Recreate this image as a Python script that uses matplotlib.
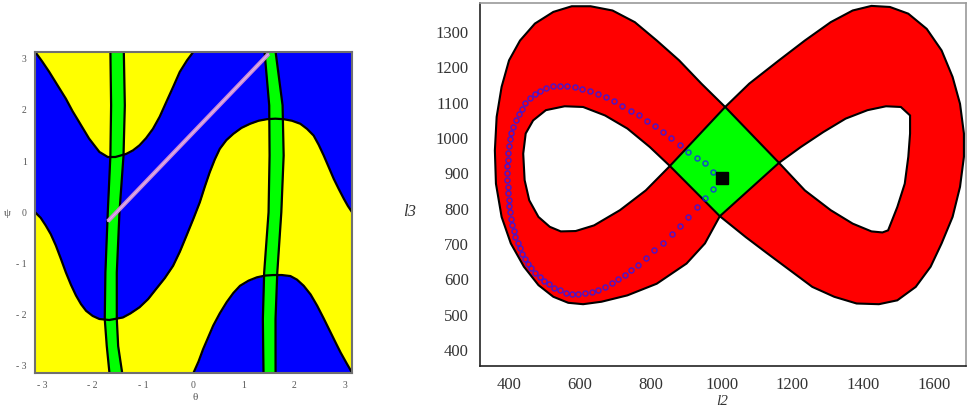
import numpy as np
import matplotlib.pyplot as plt
from matplotlib.patches import Polygon

PI = np.pi

# ---- left panel: theta / psi plane ----
c1_theta = [-PI, -3.00, -2.86, -2.70, -2.53, -2.40, -2.265, -2.07, -1.867, -1.70, -1.55, -1.335,
            -1.20, -1.07, -0.94, -0.805, -0.67, -0.538, -0.40, -0.273, -0.13, 0.0]
c1_psi = [PI, 2.95, 2.745, 2.49, 2.22, 1.98, 1.76, 1.44, 1.18, 1.08, 1.08, 1.14,
          1.21, 1.31, 1.45, 1.63, 1.87, 2.16, 2.46, 2.745, 2.97, PI]

c2_theta = [-PI, -3.03, -2.93, -2.83, -2.73, -2.63, -2.53, -2.43, -2.33, -2.23, -2.13, -2.00,
            -1.867, -1.67, -1.40, -1.25, -1.07, -0.90, -0.74, -0.57, -0.406, -0.27, -0.14,
            0.0, 0.125, 0.22, 0.32, 0.42, 0.52, 0.65, 0.79, 0.95, 1.12, 1.29, 1.454, 1.62,
            1.785, 1.95, 2.117, 2.25, 2.38, 2.48, 2.58, 2.68, 2.78, 2.88, 2.98, 3.06, PI]
c2_psi = [0.0, -0.11, -0.26, -0.43, -0.65, -0.91, -1.18, -1.42, -1.63, -1.80, -1.93, -2.03,
          -2.09, -2.11, -2.06, -1.98, -1.86, -1.70, -1.50, -1.29, -1.05, -0.77, -0.46,
          -0.12, 0.196, 0.49, 0.78, 1.03, 1.24, 1.41, 1.535, 1.65, 1.73, 1.79, 1.82, 1.83,
          1.82, 1.79, 1.73, 1.63, 1.50, 1.32, 1.11, 0.88, 0.65, 0.45, 0.26, 0.12, 0.0]

c3_theta = [0.0, 0.10, 0.19, 0.29, 0.39, 0.52, 0.657, 0.79, 0.922, 1.09, 1.255, 1.42, 1.585,
            1.75, 1.92, 2.05, 2.183, 2.32, 2.45, 2.58, 2.715, 2.82, 2.914, 3.03, PI]
c3_psi = [-PI, -2.92, -2.68, -2.45, -2.22, -1.98, -1.76, -1.58, -1.44, -1.34, -1.275, -1.24, -1.23,
          -1.23, -1.25, -1.32, -1.44, -1.61, -1.83, -2.08, -2.35, -2.56, -2.745, -2.95, -PI]

band_psi = [PI, 2.09, 1.11, 0.0, -1.18, -2.09, -2.62, -PI]
band1_left = [-1.648, -1.634, -1.648, -1.700, -1.747, -1.760, -1.720, -1.667]
band1_right = [-1.382, -1.362, -1.388, -1.468, -1.521, -1.521, -1.494, -1.415]
band2_left = [1.407, 1.500, 1.507, 1.487, 1.400, 1.374, 1.380, 1.387]
band2_right = [1.626, 1.765, 1.786, 1.740, 1.660, 1.625, 1.625, 1.626]

path_theta = [-1.70, 1.49]
path_psi = [-0.18, 3.10]

# ---- right panel: l2 / l3 workspace ----
outer_left_l2 = [1010, 943, 880, 817, 755, 692, 630, 577, 525, 473, 431, 400, 379, 365, 360,
                 363, 379, 405, 442, 483, 525, 567, 609, 661, 734, 817, 901, 953, 995]
outer_left_l3 = [1088, 1154, 1220, 1276, 1328, 1361, 1373, 1373, 1357, 1324, 1276, 1220, 1145, 1060, 965,
                 871, 777, 702, 636, 584, 551, 534, 530, 537, 555, 588, 645, 702, 779]
outer_right_l2 = [1068, 1130, 1193, 1256, 1318, 1381, 1444, 1496, 1548, 1590, 1621, 1652, 1673,
                  1684, 1684, 1673, 1652, 1621, 1579, 1527, 1475, 1423, 1370, 1308, 1235, 1162, 1078]
outer_right_l3 = [720, 673, 626, 579, 551, 532, 530, 541, 579, 636, 702, 777, 862,
                  947, 1013, 1097, 1173, 1248, 1309, 1352, 1371, 1374, 1361, 1328, 1276, 1220, 1154]

hole_left_l2 = [854, 797, 734, 671, 609, 557, 504, 468, 447, 440, 444, 457, 483, 515, 546, 588, 640, 713, 786]
hole_left_l3 = [921, 975, 1027, 1064, 1088, 1090, 1079, 1050, 1013, 956, 881, 824, 777, 749, 736, 737, 753, 796, 852]
hole_right_l2 = [1162, 1224, 1287, 1350, 1412, 1464, 1506, 1532, 1532, 1527, 1517, 1496, 1470,
                 1454, 1423, 1370, 1308, 1235]
hole_right_l3 = [930, 975, 1017, 1055, 1079, 1090, 1088, 1064, 1013, 947, 871, 805, 739,
                 733, 736, 758, 796, 852]

diamond_l2 = [854, 1010, 1162, 995]
diamond_l3 = [921, 1088, 930, 779]

traj_l2 = [977, 954, 930, 905, 883, 858, 834, 812, 789, 766, 743, 720, 697, 674, 651, 628, 606, 585,
           564, 544, 524, 505, 488, 472, 458, 446, 436, 427, 419, 412, 406, 402, 399, 397, 396, 395,
           395, 395, 396, 397, 399, 401, 403, 405, 409, 413, 418, 424, 430, 437, 445, 454, 463, 474,
           486, 499, 513, 528, 544, 561, 578, 596, 614, 633, 652, 671, 690, 708, 726, 744, 764, 786,
           810, 835, 859, 883, 906, 930, 954, 977]
traj_l3 = [905, 929, 943, 962, 981, 1000, 1016, 1033, 1049, 1064, 1078, 1092, 1104, 1115, 1124, 1132,
           1139, 1144, 1147, 1148, 1146, 1141, 1134, 1124, 1112, 1098, 1083, 1067, 1050, 1032, 1014,
           996, 977, 958, 939, 920, 901, 882, 863, 844, 826, 808, 790, 772, 755, 738, 721, 704, 688,
           673, 659, 645, 632, 619, 607, 596, 586, 577, 569, 563, 560, 559, 561, 565, 571, 579, 589,
           600, 612, 626, 642, 661, 682, 704, 728, 751, 778, 804, 830, 856]

current_l2 = [1002]
current_l3 = [887]

serif = ['Liberation Serif', 'DejaVu Serif']

fig = plt.figure(figsize=(9.76, 4.09), dpi=100)

# Left panel
ax1 = fig.add_axes([0.0359, 0.0887, 0.3248, 0.785])
ax1.set_facecolor('#0000ff')
ax1.fill_between(c1_theta, c1_psi, PI, color='#ffff00', lw=0)
ax1.fill_between(c2_theta, -PI, c2_psi, color='#ffff00', lw=0)
ax1.fill_between(c3_theta, -PI, c3_psi, color='#0000ff', lw=0)

for left, right in [(band1_left, band1_right), (band2_left, band2_right)]:
    ax1.fill_betweenx(band_psi, left, right, color='#00ff00', lw=0)
    ax1.plot(left, band_psi, color='black', lw=1.6)
    ax1.plot(right, band_psi, color='black', lw=1.6)

for th, ps in [(c1_theta, c1_psi), (c2_theta, c2_psi), (c3_theta, c3_psi)]:
    ax1.plot(th, ps, color='black', lw=1.6)

ax1.plot(path_theta, path_psi, color='#c98ad8', lw=3, solid_capstyle='butt')
ax1.plot(path_theta, path_psi, color='#e2b6ea', lw=0.8)

ax1.set_xlim(-PI, PI)
ax1.set_ylim(-PI, PI)
ticks = [-3, -2, -1, 0, 1, 2, 3]
tick_labels = ['- 3', '- 2', '- 1', '0', '1', '2', '3']
ax1.set_xticks(ticks)
ax1.set_xticklabels(tick_labels, family=serif)
ax1.set_yticks(ticks)
ax1.set_yticklabels(tick_labels, family=serif)
ax1.tick_params(length=0, labelsize=7, colors='#555555', pad=6)
for s in ax1.spines.values():
    s.set_color('#707070')
    s.set_linewidth(1.5)
fig.text(7 / 976, 1 - 213 / 409, 'ψ', family=serif, fontsize=8, color='#555555', ha='center', va='center')
fig.text(195 / 976, 1 - 398 / 409, 'θ', family=serif, fontsize=8, color='#555555', ha='center', va='center')

# Right panel
ax2 = fig.add_axes([0.4918, 0.105, 0.498, 0.8875])
outer = list(zip(outer_left_l2 + outer_right_l2, outer_left_l3 + outer_right_l3))
ax2.add_patch(Polygon(outer, closed=True, facecolor='#ff0000', edgecolor='black', lw=1.5))
ax2.add_patch(Polygon(list(zip(hole_left_l2, hole_left_l3)), closed=True,
                      facecolor='white', edgecolor='black', lw=1.5))
ax2.add_patch(Polygon(list(zip(hole_right_l2, hole_right_l3)), closed=True,
                      facecolor='white', edgecolor='black', lw=1.5))
ax2.add_patch(Polygon(list(zip(diamond_l2, diamond_l3)), closed=True,
                      facecolor='#00ff00', edgecolor='black', lw=1.5))

ax2.plot(traj_l2, traj_l3, 'o', ms=3.6, mfc='none', mec='#1a1aff', mew=1.1, alpha=0.75)
ax2.plot(current_l2, current_l3, 's', ms=9, color='black')

ax2.set_xlim(318, 1690)
ax2.set_ylim(355, 1382)
ax2.set_xticks(range(400, 1601, 200))
ax2.set_yticks(range(400, 1301, 100))
ax2.tick_params(length=0, labelsize=12, colors='#333333', pad=8)
for lab in ax2.get_xticklabels() + ax2.get_yticklabels():
    lab.set_family(serif)
ax2.spines['left'].set_color('#222222')
ax2.spines['bottom'].set_color('#222222')
ax2.spines['top'].set_color('#9a9a9a')
ax2.spines['right'].set_color('#9a9a9a')
for s in ax2.spines.values():
    s.set_linewidth(1.2)
fig.text(410 / 976, 1 - 212 / 409, 'l3', family=serif, style='italic', fontsize=12,
         color='#333333', ha='center', va='center')
fig.text(722 / 976, 1 - 408 / 409, 'l2', family=serif, style='italic', fontsize=11,
         color='#333333', ha='center', va='bottom')

fig.savefig('out.png', dpi=100)
